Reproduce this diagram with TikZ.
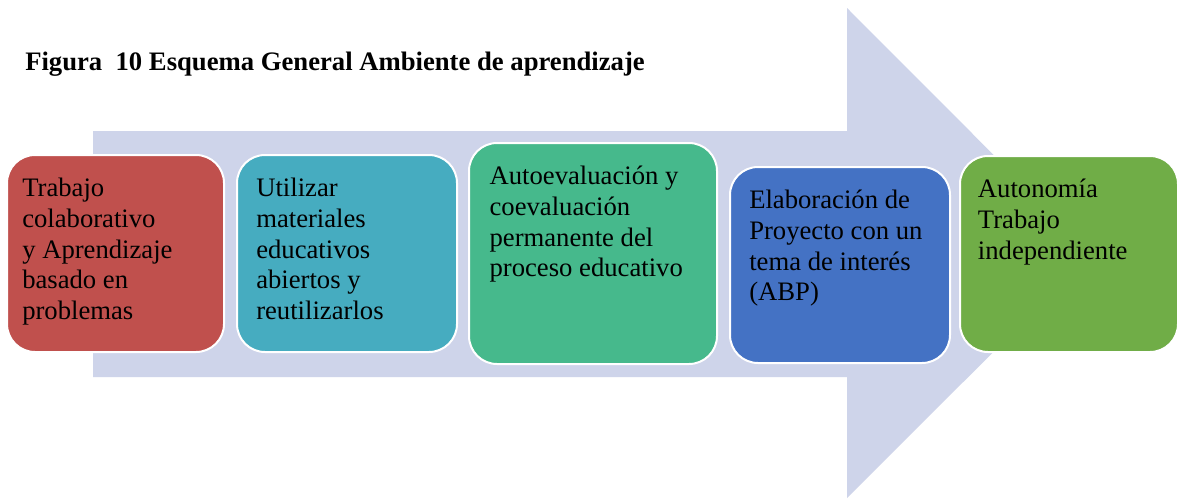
\documentclass[tikz,border=0pt]{standalone}
\usepackage{fontspec}
\setmainfont{Liberation Serif}
\usepackage{xcolor}
\usepackage{tikz}
\usetikzlibrary{positioning}
\definecolor{amblila}{RGB}{206,212,234}
\definecolor{ambred}{RGB}{192,80,77}
\definecolor{ambteal}{RGB}{70,172,192}
\definecolor{ambgreen}{RGB}{70,185,140}
\definecolor{ambblue}{RGB}{68,114,196}
\definecolor{ambolive}{RGB}{112,173,71}

\begin{document}
\begin{tikzpicture}[x=0.75pt, y=-0.75pt,
    stage/.style={draw=white, line width=1.5pt, rounded corners=21pt, minimum width=165pt, minimum height=147.75pt},
    stagetext/.style={inner sep=0pt, align=left, font=\fontsize{20}{23}\selectfont}]
    \useasboundingbox (0,0) rectangle (1179,500);
    \fill[white] (0,0) rectangle (1179,500);

    % Title
    \node[anchor=base west, inner sep=0pt, font=\fontsize{20}{23}\selectfont\bfseries] (title) at (25,70) {Figura\ \ 10 Esquema General Ambiente de aprendizaje};

    % Big background arrow
    \fill[amblila] (93,131) -- (847,131) -- (847,8) -- (1092,253.5) -- (847,498) -- (847,377) -- (93,377) -- cycle;

    % Stages
    \node[stage, fill=ambred, minimum width=162.75pt] (trabajo) at (115.5,253.5) {};
    \node[stagetext, below right=18pt and 12pt of trabajo.north west] (trabajotxt) {Trabajo\\colaborativo\\y Aprendizaje\\basado en\\problemas};

    \node[stage, fill=ambteal] (recursos) at (347,253.5) {};
    \node[stagetext, below right=18pt and 15pt of recursos.north west] (recursostxt) {Utilizar\\materiales\\educativos\\abiertos y\\reutilizarlos};

    \node[stage, fill=ambgreen, minimum width=186pt, minimum height=165.75pt] (evalua) at (593,253.5) {};
    \node[stagetext, below right=18pt and 16pt of evalua.north west] (evaluatxt) {Autoevaluación y\\coevaluación\\permanente del\\proceso educativo};

    \node[stage, fill=ambblue, minimum height=147pt] (proyecto) at (840,265) {};
    \node[stagetext, below right=18pt and 15pt of proyecto.north west] (proyectotxt) {Elaboración de\\Proyecto con un\\tema de interés\\(ABP)};

    \node[stage, fill=ambolive, minimum width=163.5pt, minimum height=147pt] (autonomia) at (1069,254) {};
    \node[stagetext, below right=18pt and 14pt of autonomia.north west] (autonomiatxt) {Autonomía\\Trabajo\\independiente};
\end{tikzpicture}
\end{document}
